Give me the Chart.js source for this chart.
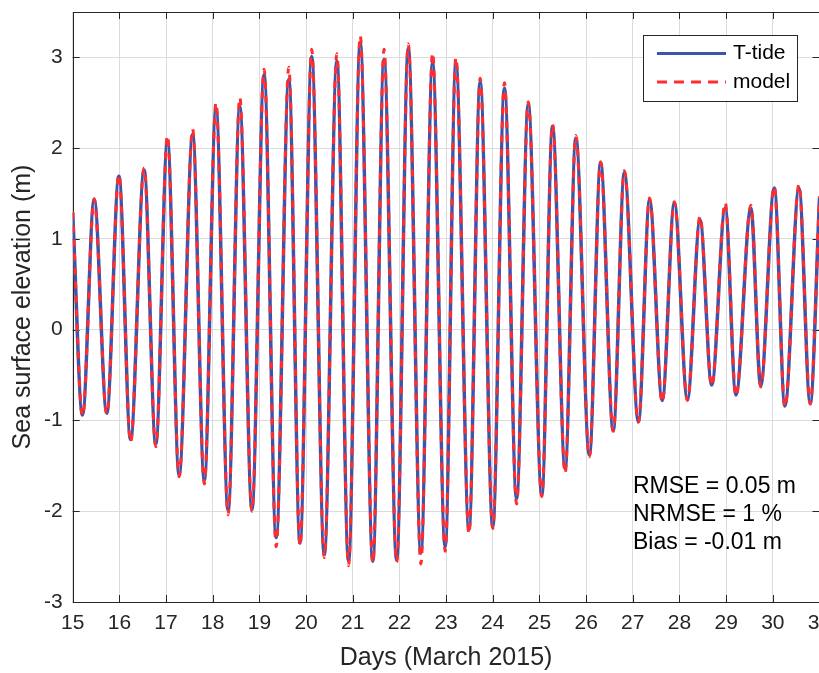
<!DOCTYPE html>
<html lang="en">
<head>
    <meta charset="UTF-8">
    <title>Sea surface elevation - T-tide vs model</title>
    <script src="https://cdn.jsdelivr.net/npm/chart.js"></script>
    <style>
        html, body { margin: 0; padding: 0; overflow: hidden; background: #fff; }
        #wrap { width: 822px; height: 673px; }
    </style>
</head>
<body>

<div id="wrap">
    <canvas id="tideChart"></canvas>
</div>

<script>
    // high / low water times (days of March 2015)
    const days = [
        15.00, 15.21, 15.46, 15.73, 15.99, 16.24, 16.53, 16.78, 17.03, 17.28,
        17.57, 17.82, 18.07, 18.33, 18.58, 18.84, 19.10, 19.36, 19.63, 19.87,
        20.12, 20.39, 20.66, 20.91, 21.16, 21.43, 21.67, 21.94, 22.19, 22.46,
        22.71, 22.98, 23.21, 23.49, 23.73, 24.00, 24.25, 24.51, 24.76, 25.05,
        25.28, 25.55, 25.78, 26.07, 26.31, 26.58, 26.82, 27.12, 27.36, 27.63,
        27.89, 28.17, 28.44, 28.69, 28.98, 29.21, 29.53, 29.74, 30.03, 30.26,
        30.56, 30.80, 31.00
    ];

    // T-tide prediction (m)
    const ttide = [
        1.29, -0.94, 1.44, -0.92, 1.69, -1.21, 1.76, -1.26, 2.08, -1.60,
        2.15, -1.66, 2.44, -1.99, 2.46, -1.98, 2.81, -2.29, 2.76, -2.35,
        3.01, -2.48, 2.96, -2.55, 3.16, -2.55, 2.98, -2.54, 3.10, -2.46,
        2.94, -2.39, 2.94, -2.20, 2.73, -2.17, 2.66, -1.86, 2.48, -1.82,
        2.24, -1.53, 2.11, -1.38, 1.84, -1.11, 1.73, -1.01, 1.43, -0.78,
        1.40, -0.77, 1.21, -0.61, 1.34, -0.72, 1.34, -0.62, 1.56, -0.84,
        1.56, -0.81, 1.45
    ];

    // model output (m)
    const model = [
        1.30, -0.95, 1.44, -0.93, 1.71, -1.24, 1.78, -1.29, 2.14, -1.62,
        2.21, -1.70, 2.50, -2.04, 2.56, -2.00, 2.87, -2.39, 2.89, -2.38,
        3.09, -2.51, 3.04, -2.60, 3.24, -2.57, 3.09, -2.56, 3.15, -2.58,
        3.05, -2.44, 3.00, -2.25, 2.77, -2.19, 2.72, -1.92, 2.51, -1.84,
        2.26, -1.58, 2.14, -1.40, 1.85, -1.12, 1.75, -1.02, 1.45, -0.80,
        1.41, -0.78, 1.25, -0.62, 1.40, -0.73, 1.37, -0.63, 1.58, -0.85,
        1.60, -0.82, 1.47
    ];

    const xTicks = [15, 16, 17, 18, 19, 20, 21, 22, 23, 24, 25, 26, 27, 28, 29, 30, 31];
    const yTicks = [-3, -2, -1, 0, 1, 2, 3];
    const statLines = ['RMSE = 0.05 m', 'NRMSE = 1 %', 'Bias = -0.01 m'];

    const FONT = '"Liberation Sans", Arial, Helvetica, sans-serif';
    const AXIS_COLOR = '#262626';

    // box round the plot with inward ticks (matlab style)
    const boxPlugin = {
        id: 'boxPlugin',
        beforeDatasetsDraw(chart) {
            const { ctx, chartArea: a, scales } = chart;
            ctx.save();
            ctx.strokeStyle = AXIS_COLOR;
            ctx.lineWidth = 1;
            ctx.beginPath();
            xTicks.forEach(v => {
                const px = Math.round(scales.x.getPixelForValue(v)) + 0.5;
                ctx.moveTo(px, a.bottom); ctx.lineTo(px, a.bottom - 7);
                ctx.moveTo(px, a.top); ctx.lineTo(px, a.top + 7);
            });
            yTicks.forEach(v => {
                const py = Math.round(scales.y.getPixelForValue(v)) + 0.5;
                ctx.moveTo(a.left, py); ctx.lineTo(a.left + 7, py);
                ctx.moveTo(a.right, py); ctx.lineTo(a.right - 7, py);
            });
            ctx.stroke();
            ctx.strokeRect(Math.round(a.left) + 0.5, Math.round(a.top) + 0.5,
                Math.round(a.right - a.left), Math.round(a.bottom - a.top));
            ctx.restore();
        },
        afterDraw(chart) {
            const ctx = chart.ctx;
            ctx.save();

            // legend box
            const lx = 643, ly = 35, lw = 154, lh = 66;
            ctx.fillStyle = '#fff';
            ctx.fillRect(lx, ly, lw, lh);
            ctx.strokeStyle = AXIS_COLOR;
            ctx.lineWidth = 1;
            ctx.strokeRect(lx + 0.5, ly + 0.5, lw, lh);
            chart.data.datasets.forEach((ds, i) => {
                const y = ly + 18.5 + i * 28.5;
                ctx.strokeStyle = ds.borderColor;
                ctx.lineWidth = 3;
                ctx.setLineDash(ds.borderDash ? [10, 7] : []);
                ctx.beginPath();
                ctx.moveTo(lx + 14, y);
                ctx.lineTo(lx + 83, y);
                ctx.stroke();
                ctx.setLineDash([]);
                ctx.fillStyle = '#000';
                ctx.font = '21px ' + FONT;
                ctx.textBaseline = 'middle';
                ctx.textAlign = 'left';
                ctx.fillText(ds.label, lx + 90, y);
            });

            // error statistics
            ctx.fillStyle = '#000';
            ctx.font = '23px ' + FONT;
            ctx.textBaseline = 'middle';
            statLines.forEach((t, i) => ctx.fillText(t, 633, 487 + i * 28));
            ctx.restore();
        }
    };

    const ctx = document.getElementById('tideChart').getContext('2d');
    const tideChart = new Chart(ctx, {
        type: 'line',
        data: {
            datasets: [{
                label: 'T-tide',
                data: days.map((d, i) => ({ x: d, y: ttide[i] })),
                borderColor: 'rgb(62, 84, 170)',
                borderWidth: 3.5,
                pointRadius: 0,
                cubicInterpolationMode: 'monotone',
                order: 2
            }, {
                // dashed model line goes on top of the blue one
                label: 'model',
                data: days.map((d, i) => ({ x: d, y: model[i] })),
                borderColor: 'rgb(255, 45, 45)',
                borderWidth: 3,
                borderDash: [7, 7],
                pointRadius: 0,
                cubicInterpolationMode: 'monotone',
                order: 1
            }]
        },
        options: {
            responsive: true,
            maintainAspectRatio: false,
            animation: false,
            events: [],
            layout: { padding: { top: 12, right: 2.5, left: 0, bottom: 0 } },
            plugins: {
                legend: { display: false },
                tooltip: { enabled: false }
            },
            scales: {
                x: {
                    type: 'linear',
                    min: 15,
                    max: 31,
                    afterBuildTicks: s => { s.ticks = xTicks.map(v => ({ value: v })); },
                    afterFit: s => { s.height = 71; s.paddingLeft = 0; s.paddingRight = 0; },
                    grid: { color: '#dcdcdc', drawTicks: false },
                    border: { display: false },
                    ticks: {
                        color: AXIS_COLOR,
                        font: { family: FONT, size: 21 },
                        padding: 9,
                        maxRotation: 0,
                        autoSkip: false
                    },
                    title: {
                        display: true,
                        text: 'Days (March 2015)',
                        color: AXIS_COLOR,
                        font: { family: FONT, size: 25 },
                        padding: { top: 0, bottom: 0 }
                    }
                },
                y: {
                    min: -3,
                    max: 3.5,
                    afterBuildTicks: s => { s.ticks = yTicks.map(v => ({ value: v })); },
                    afterFit: s => { s.width = 72.7; s.paddingTop = 0; s.paddingBottom = 0; },
                    grid: { color: '#dcdcdc', drawTicks: false },
                    border: { display: false },
                    ticks: {
                        color: AXIS_COLOR,
                        font: { family: FONT, size: 21 },
                        padding: 10
                    },
                    title: {
                        display: true,
                        text: 'Sea surface elevation (m)',
                        color: AXIS_COLOR,
                        font: { family: FONT, size: 25 },
                        padding: { top: 8, bottom: 0 }
                    }
                }
            }
        },
        plugins: [boxPlugin]
    });
</script>

</body>
</html>
